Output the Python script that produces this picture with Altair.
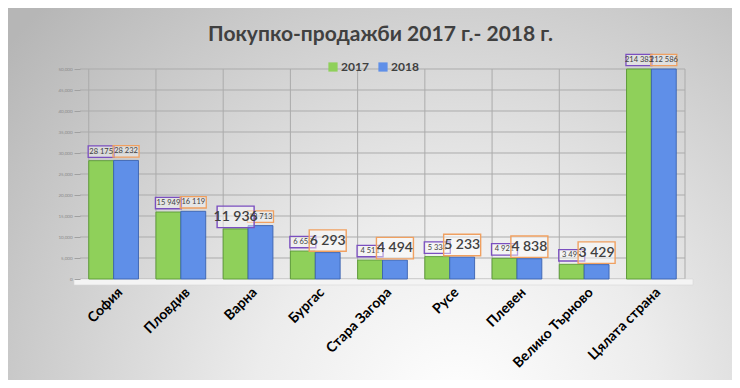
import altair as alt
import pandas as pd

# ---- data ----
title_text = "Покупко-продажби 2017 г.- 2018 г."
regions = ["София", "Пловдив", "Варна", "Бургас", "Стара Загора", "Русе",
           "Плевен", "Велико Търново", "Цялата страна"]
v2017 = [28175, 15949, 11936, 6658, 4511, 5334, 4921, 3499, 214383]
v2018 = [28232, 16119, 12713, 6293, 4494, 5233, 4838, 3429, 212586]
big2017 = [0, 0, 1, 0, 0, 0, 0, 0, 0]
big2018 = [0, 0, 0, 1, 1, 1, 1, 1, 0]
years = ["2017", "2018"]
y_ticks = [0, 5000, 10000, 15000, 20000, 25000, 30000, 35000, 40000, 45000, 50000]

rows = []
for i, r in enumerate(regions):
    for yr, vals, bigs, fill_edge, box in (
        ("2017", v2017, big2017, "#5a9a34", "#7b4fc0"),
        ("2018", v2018, big2018, "#3a62b0", "#f0a060"),
    ):
        rows.append({
            "region": r, "year": yr, "value": vals[i],
            "label": f"{vals[i]:,}".replace(",", " "),
            "big": bigs[i], "edge": fill_edge, "box": box,
        })
df = pd.DataFrame(rows)
one = pd.DataFrame({"k": [0]})

W, H = 605, 210
PL, PT, PR, PB = 72, 61, 47, 101

xscale = alt.Scale(domain=regions, paddingInner=0.26, paddingOuter=0.13)
xaxis = alt.Axis(title=None, labelAngle=-45, labelFont="Lato", labelFontWeight="bold",
                 labelFontSize=14, labelColor="#000000", ticks=False, domain=False,
                 grid=False, labelPadding=6, labelOffset=2, zindex=1)
yscale = alt.Scale(domain=[0, 50000], clamp=True, nice=False)
yaxis = alt.Axis(title=None, values=y_ticks, labelFontSize=4.5, labelColor="#8a8a8a",
                 labelFont="Lato", domain=False, ticks=True, tickColor="#a0a0a0",
                 tickSize=6, grid=False, labelPadding=2, zindex=1)

def X(field="region"):
    return alt.X(f"{field}:N", sort=regions, scale=xscale, axis=xaxis)

def Y(field="value"):
    return alt.Y(f"{field}:Q", scale=yscale, axis=yaxis)

grad = {
    "gradient": "radial",
    "x1": 0.62, "y1": 0.8, "r1": 0,
    "x2": 0.62, "y2": 0.8, "r2": 0.8,
    "stops": [
        {"offset": 0, "color": "#ffffff"},
        {"offset": 0.35, "color": "#ececec"},
        {"offset": 1, "color": "#b6b6b6"},
    ],
}

bg = alt.Chart(one).mark_rect(fill=grad).encode(
    x=alt.value(-PL), x2=alt.value(W + PR), y=alt.value(-PT), y2=alt.value(H + PB)
)

title = alt.Chart(one).mark_text(
    text=title_text, font="Lato", fontSize=21, fontWeight="bold", color="#404040",
    align="center", baseline="middle"
).encode(x=alt.value(W / 2 - 2), y=alt.value(-34))

hgrid = alt.Chart(pd.DataFrame({"v": y_ticks})).mark_rule(
    color="#ababab", strokeWidth=1
).encode(y=Y("v"), x=alt.value(0), x2=alt.value(W))

vgrid = alt.Chart(pd.DataFrame({"region": regions})).mark_rule(
    color="#ababab", strokeWidth=1
).encode(
    x=alt.X("region:N", sort=regions, scale=xscale, axis=xaxis, bandPosition=0),
    y=alt.value(0), y2=alt.value(H)
)
vedge = alt.Chart(one).mark_rule(color="#ababab", strokeWidth=1).encode(
    x=alt.value(W), y=alt.value(0), y2=alt.value(H)
)

floor = alt.Chart(one).mark_rect(fill="#f4f4f4", stroke="#d6d6d6", strokeWidth=0.6).encode(
    x=alt.value(-6), x2=alt.value(W + 8), y=alt.value(H), y2=alt.value(H + 6)
)

bars = alt.Chart(df).mark_bar(strokeWidth=0.9).encode(
    x=X(),
    xOffset=alt.XOffset("year:N", sort=years),
    y=Y(),
    color=alt.Color(
        "year:N",
        scale=alt.Scale(domain=years, range=["#8fd05a", "#5f8fe8"]),
        legend=alt.Legend(
            title=None, orient="none", legendX=247, legendY=-8, direction="horizontal",
            symbolType="square", symbolSize=85, symbolStrokeWidth=0,
            labelFont="Lato", labelFontSize=12, labelFontWeight="bold",
            labelColor="#404040", columnPadding=8, labelOffset=2, zindex=1,
        ),
    ),
    stroke=alt.Stroke("edge:N", scale=None),
)

small_shape = "M-1,-0.44L1,-0.44L1,0.44L-1,0.44Z"
big_shape = "M-1,-0.58L1,-0.58L1,0.58L-1,0.58Z"

small_box = alt.Chart(df).transform_filter(alt.datum.big == 0).mark_point(
    shape=small_shape, size=676, filled=True, fill="#ffffff", fillOpacity=0.35,
    strokeWidth=1.3, yOffset=-9, opacity=1
).encode(x=X(), xOffset=alt.XOffset("year:N", sort=years), y=Y(),
         stroke=alt.Stroke("box:N", scale=None))

small_text = alt.Chart(df).transform_filter(alt.datum.big == 0).mark_text(
    font="Lato", fontSize=7.5, color="#404040", dy=-9, baseline="middle"
).encode(x=X(), xOffset=alt.XOffset("year:N", sort=years), y=Y(), text="label:N")

big_box = alt.Chart(df).transform_filter(alt.datum.big == 1).mark_point(
    shape=big_shape, size=1369, filled=True, fill="#ffffff", fillOpacity=0.45,
    strokeWidth=1.4, yOffset=-12, opacity=1
).encode(x=X(), xOffset=alt.XOffset("year:N", sort=years), y=Y(),
         stroke=alt.Stroke("box:N", scale=None))

big_text = alt.Chart(df).transform_filter(alt.datum.big == 1).mark_text(
    font="Lato", fontSize=14, fontWeight=600, color="#404040", dy=-12, baseline="middle"
).encode(x=X(), xOffset=alt.XOffset("year:N", sort=years), y=Y(), text="label:N")

chart = alt.layer(
    bg, title, hgrid, vgrid, vedge, floor, bars, small_box, small_text, big_box, big_text
).properties(
    width=W, height=H,
    autosize=alt.AutoSizeParams(type="none"),
    padding={"left": PL, "top": PT, "right": PR, "bottom": PB},
).configure_view(stroke=None)

chart.save("out.html", embed_options={"renderer": "svg", "actions": False})
